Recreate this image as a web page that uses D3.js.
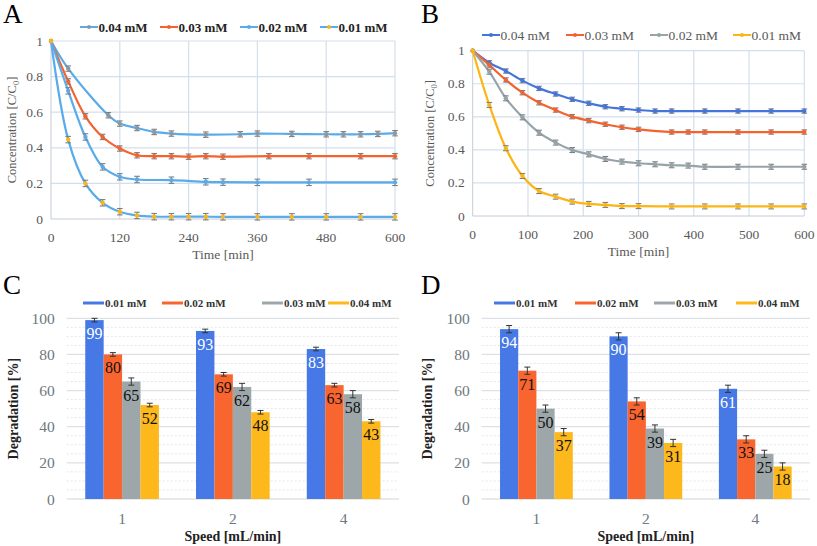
<!DOCTYPE html>
<html><head><meta charset="utf-8">
<script src="https://cdn.jsdelivr.net/npm/d3@7"></script>
<style>body{margin:0;background:#fff}svg{display:block}text{font-family:"Liberation Serif","Times New Roman",serif}</style>
</head><body>
<svg id="c" width="817" height="546"></svg>
<script>
// ---------- DATA ----------
// Panel A (Time [min] vs C/C0)
const seriesNamesA = ["0.04 mM","0.03 mM","0.02 mM","0.01 mM"];
const tA04 = [0,30,100,120,150,180,210,270,330,360,420,480,510,540,570,600];
const vA04 = [1,0.845,0.583,0.536,0.511,0.489,0.48,0.474,0.476,0.48,0.478,0.476,0.476,0.476,0.478,0.482];
const tA03 = [0,30,60,90,120,150,180,210,240,270,300,380,450,540,600];
const vA03 = [1,0.773,0.577,0.461,0.396,0.358,0.353,0.353,0.35,0.353,0.35,0.353,0.353,0.353,0.353];
const tA02 = [0,30,60,90,120,150,210,270,300,360,450,600];
const vA02 = [1,0.72,0.461,0.293,0.237,0.222,0.218,0.209,0.207,0.206,0.206,0.206];
const tA01 = [0,30,60,90,120,150,180,210,240,270,300,360,420,480,540,600];
const vA01 = [1,0.446,0.2,0.091,0.041,0.02,0.013,0.013,0.013,0.013,0.012,0.012,0.012,0.012,0.012,0.012];
const xTicksA = [0,120,240,360,480,600];
const yTicksLine = [0,0.2,0.4,0.6,0.8,1];

// Panel B
const seriesNamesB = ["0.04 mM","0.03 mM","0.02 mM","0.01 mM"];
const tB04 = [0,30,60,90,120,150,180,210,240,270,300,330,360,420,480,540,600];
const vB04 = [1,0.927,0.877,0.819,0.772,0.738,0.706,0.682,0.661,0.649,0.641,0.635,0.635,0.635,0.635,0.635,0.635];
const tB03 = [0,30,60,90,120,150,180,210,240,270,300,360,390,420,480,540,600];
const vB03 = [1,0.913,0.823,0.746,0.685,0.641,0.601,0.577,0.555,0.537,0.524,0.508,0.508,0.508,0.508,0.508,0.508];
const tB02 = [0,30,60,90,120,150,180,210,240,270,300,330,360,390,420,480,540,600];
const vB02 = [1,0.873,0.712,0.597,0.504,0.444,0.399,0.373,0.345,0.329,0.319,0.313,0.307,0.305,0.298,0.298,0.298,0.298];
const tB01 = [0,30,60,90,120,150,180,210,240,270,300,360,420,480,540,600];
const vB01 = [1,0.672,0.41,0.242,0.151,0.117,0.087,0.073,0.067,0.06,0.06,0.058,0.058,0.058,0.058,0.058];
const xTicksB = [0,100,200,300,400,500,600];

// Panels C & D (Degradation [%])
const speeds = ["1","2","4"];
const barSeries = ["0.01 mM","0.02 mM","0.03 mM","0.04 mM"];
const degC = [[99,80,65,52],[93,69,62,48],[83,63,58,43]];
const errC = [[1,1,2,1],[1,1,2,1],[1,1,2,1]];
const degD = [[94,71,50,37],[90,54,39,31],[61,33,25,18]];
const errD = [[2,2,2,2],[2,2,2,2],[2,2,2,2]];
const yTicksBar = [0,20,40,60,80,100];

// ---------- DRAW ----------
const svg = d3.select("#c");
const tickCol = "#595959";

function panelLetter(t,x,y){
  svg.append("text").attr("x",x).attr("y",y).attr("font-size",27).attr("fill","#000").text(t);
}

function linePanel(cfg){
  const x = d3.scaleLinear().domain([0,600]).range([cfg.x0,cfg.x1]);
  const y = d3.scaleLinear().domain([0,1]).range([cfg.y0,cfg.y1]);
  const g = svg.append("g");
  // grid
  g.selectAll(".hg").data(yTicksLine.filter(d=>d>0)).join("line")
    .attr("x1",cfg.x0).attr("x2",cfg.x1).attr("y1",d=>y(d)).attr("y2",d=>y(d))
    .attr("stroke","#d3dfec").attr("stroke-width",1.2);
  g.selectAll(".vg").data(cfg.xticks.filter(d=>d>0)).join("line")
    .attr("x1",d=>x(d)).attr("x2",d=>x(d)).attr("y1",cfg.y0).attr("y2",cfg.y1)
    .attr("stroke","#d3dfec").attr("stroke-width",1.2);
  // axes lines
  g.append("line").attr("x1",cfg.x0).attr("x2",cfg.x1).attr("y1",cfg.y0).attr("y2",cfg.y0).attr("stroke","#c4ccd4");
  g.append("line").attr("x1",cfg.x0).attr("x2",cfg.x0).attr("y1",cfg.y0).attr("y2",cfg.y1).attr("stroke","#c4ccd4");
  // tick labels
  g.selectAll(".yt").data(yTicksLine).join("text")
    .attr("x",cfg.x0-8).attr("y",d=>y(d)+4.5).attr("text-anchor","end")
    .attr("font-size",13.5).attr("fill",tickCol).text(d=>d===0?"0":d===1?"1":d3.format(".1f")(d));
  g.selectAll(".xt").data(cfg.xticks).join("text")
    .attr("x",d=>x(d)).attr("y",cfg.y0+23).attr("text-anchor","middle")
    .attr("font-size",13.5).attr("fill",tickCol).text(d=>d);
  // axis titles
  g.append("text").attr("x",(cfg.x0+cfg.x1)/2).attr("y",cfg.y0+40).attr("text-anchor","middle")
    .attr("font-size",13.5).attr("fill",tickCol).text("Time [min]");
  const yl = g.append("text").attr("transform",`translate(${cfg.ylx},${(cfg.y0+cfg.y1)/2}) rotate(-90)`)
    .attr("text-anchor","middle").attr("font-size",12.5).attr("fill",tickCol);
  yl.append("tspan").text("Concentration [C/C");
  yl.append("tspan").attr("font-size",8.5).attr("dy",3).text("0");
  yl.append("tspan").attr("dy",-3).text("]");
  // series
  const line = d3.line().x(d=>x(d[0])).y(d=>y(d[1])).curve(d3.curveCatmullRom.alpha(0.5));
  cfg.series.forEach(s=>{
    const pts = s.t.map((t,i)=>[t,s.v[i]]);
    g.append("path").datum(pts).attr("d",line).attr("fill","none")
      .attr("stroke",s.line).attr("stroke-width",2.2);
    const eb = g.append("g");
    pts.slice(1).forEach(p=>{
      const e = s.err;
      eb.append("line").attr("x1",x(p[0])).attr("x2",x(p[0])).attr("y1",y(p[1]-e)).attr("y2",y(p[1]+e))
        .attr("stroke","#7a7f85").attr("stroke-width",1.1);
      [p[1]-e,p[1]+e].forEach(v=>eb.append("line").attr("x1",x(p[0])-2.8).attr("x2",x(p[0])+2.8)
        .attr("y1",y(v)).attr("y2",y(v)).attr("stroke","#7a7f85").attr("stroke-width",1.1));
    });
    g.selectAll(null).data(pts).join("circle").attr("cx",d=>x(d[0])).attr("cy",d=>y(d[1]))
      .attr("r",2.2).attr("fill",s.mark);
  });
  // legend
  cfg.series.forEach((s,i)=>{
    const lx = cfg.legX[i], ly = cfg.legY;
    g.append("line").attr("x1",lx).attr("x2",lx+18).attr("y1",ly).attr("y2",ly).attr("stroke",s.line).attr("stroke-width",2);
    g.append("circle").attr("cx",lx+9).attr("cy",ly).attr("r",2).attr("fill",s.mark);
    g.append("text").attr("x",lx+18.5).attr("y",ly+4.5).attr("font-size",cfg.legSize)
      .attr("font-weight",cfg.legBold?"bold":"normal").attr("fill",cfg.legCol).text(s.name);
  });
}

const ltBlue="#5aabea", orange="#f4622d", blueB="#4474dc", grayB="#96a4a8", yellow="#fbb515", grayM="#8f989c";

linePanel({x0:51,x1:395,y0:219,y1:41,xticks:xTicksA,ylx:16,
  legX:[80,160,240,320],legY:27,legSize:13,legBold:true,legCol:"#222",
  series:[
    {name:seriesNamesA[0],t:tA04,v:vA04,line:ltBlue,mark:grayM,err:0.015},
    {name:seriesNamesA[1],t:tA03,v:vA03,line:orange,mark:orange,err:0.015},
    {name:seriesNamesA[2],t:tA02,v:vA02,line:ltBlue,mark:ltBlue,err:0.018},
    {name:seriesNamesA[3],t:tA01,v:vA01,line:ltBlue,mark:yellow,err:0.018}
  ]});
linePanel({x0:472.7,x1:804.3,y0:216,y1:50.7,xticks:xTicksB,ylx:434,
  legX:[482,566,650,733],legY:35,legSize:13.5,legBold:false,legCol:"#595959",
  series:[
    {name:seriesNamesB[0],t:tB04,v:vB04,line:blueB,mark:blueB,err:0.013},
    {name:seriesNamesB[1],t:tB03,v:vB03,line:orange,mark:orange,err:0.013},
    {name:seriesNamesB[2],t:tB02,v:vB02,line:grayB,mark:grayB,err:0.015},
    {name:seriesNamesB[3],t:tB01,v:vB01,line:yellow,mark:yellow,err:0.015}
  ]});

const barCols = ["#4679e6","#f9652f","#9da7aa","#fdb81c"];
function barPanel(cfg){
  const y = d3.scaleLinear().domain([0,100]).range([499,318.3]);
  const x = d3.scaleBand().domain(speeds).range([cfg.x0,cfg.x1]).paddingInner(0).paddingOuter(0);
  const xi = d3.scaleBand().domain(barSeries).range([0,x.bandwidth()*0.665]);
  const off = x.bandwidth()*(1-0.665)/2;
  const g = svg.append("g");
  const minor = d3.range(5,100,5).filter(d=>d%20!==0);
  g.selectAll(".mg").data(minor).join("line").attr("x1",cfg.x0).attr("x2",cfg.x1)
    .attr("y1",d=>y(d)).attr("y2",d=>y(d)).attr("stroke","#e3e6ea").attr("stroke-dasharray","2,2");
  g.selectAll(".Mg").data(yTicksBar).join("line").attr("x1",cfg.x0).attr("x2",cfg.x1)
    .attr("y1",d=>y(d)).attr("y2",d=>y(d)).attr("stroke",d=>d===0?"#d0d4d8":"#dde1e5").attr("stroke-width",1.2);
  g.selectAll(".yt").data(yTicksBar).join("text").attr("x",cfg.x0-12).attr("y",d=>y(d)+5.5)
    .attr("text-anchor","end").attr("font-size",15.5).attr("fill","#6d7880").text(d=>d);
  g.selectAll(".xt").data(speeds).join("text").attr("x",d=>x(d)+x.bandwidth()/2).attr("y",524)
    .attr("text-anchor","middle").attr("font-size",15.5).attr("fill","#6d7880").text(d=>d);
  g.append("text").attr("x",(cfg.x0+cfg.x1)/2).attr("y",541).attr("text-anchor","middle")
    .attr("font-size",14).attr("font-weight","bold").attr("fill","#222").text("Speed [mL/min]");
  g.append("text").attr("transform",`translate(${cfg.ylx},${(499+318.3)/2}) rotate(-90)`)
    .attr("text-anchor","middle").attr("font-size",14).attr("font-weight","bold").attr("fill","#222").text("Degradation [%]");
  speeds.forEach((sp,ci)=>{
    barSeries.forEach((s,si)=>{
      const v = cfg.data[ci][si], e = cfg.err[ci][si];
      const bx = x(sp)+off+xi(s), bw = xi.bandwidth();
      g.append("rect").attr("x",bx).attr("y",y(v)).attr("width",bw).attr("height",y(0)-y(v)).attr("fill",barCols[si]);
      const cx = bx+bw/2;
      g.append("line").attr("x1",cx).attr("x2",cx).attr("y1",y(v-e)).attr("y2",y(v+e)).attr("stroke","#333").attr("stroke-width",1);
      [v-e,v+e].forEach(w=>g.append("line").attr("x1",cx-3).attr("x2",cx+3).attr("y1",y(w)).attr("y2",y(w)).attr("stroke","#333").attr("stroke-width",1));
      g.append("text").attr("x",cx).attr("y",y(v)+19).attr("text-anchor","middle").attr("font-size",16)
        .attr("fill",si===0?"#fff":"#111").text(v);
    });
  });
  barSeries.forEach((s,i)=>{
    const lx = cfg.legX[i];
    g.append("line").attr("x1",lx).attr("x2",lx+21).attr("y1",303).attr("y2",303).attr("stroke",barCols[i]).attr("stroke-width",3);
    g.append("text").attr("x",lx+22).attr("y",307).attr("font-size",11).attr("font-weight","bold").attr("fill","#333").text(s);
  });
}
barPanel({x0:66.7,x1:399,ylx:18,data:degC,err:errC,legX:[83,162,262,328]});
barPanel({x0:481.7,x1:810,ylx:432,data:degD,err:errD,legX:[494,575,654,736]});

panelLetter("A",3,23);
panelLetter("B",421,23);
panelLetter("C",3,294);
panelLetter("D",421,294);
</script>
</body></html>
